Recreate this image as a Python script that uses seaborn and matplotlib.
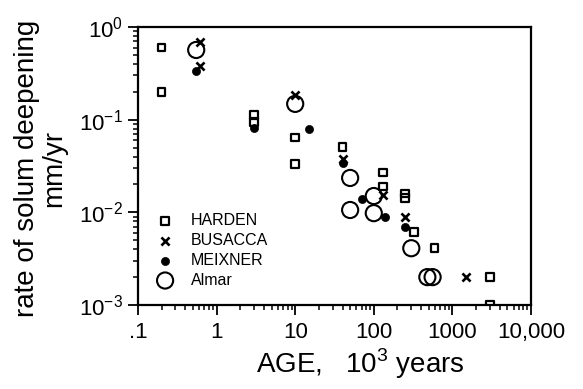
import matplotlib
matplotlib.use("Agg")
import matplotlib.pyplot as plt
import matplotlib.ticker as mticker
import numpy as np
import pandas as pd
import seaborn as sns

# Soil age (10^3 yr) and rate of solum deepening (mm/yr), by source
harden_age = [0.2, 0.2, 3, 3, 10, 10, 40, 130, 130, 250, 250, 325, 590, 3000, 3000]
harden_rate = [0.6, 0.2, 0.112, 0.095, 0.064, 0.033, 0.051, 0.027, 0.019,
               0.016, 0.0143, 0.0061, 0.0041, 0.002, 0.001]

busacca_age = [0.62, 0.62, 10, 40, 130, 250, 1500]
busacca_rate = [0.69, 0.38, 0.185, 0.038, 0.0154, 0.0089, 0.002]

meixner_age = [0.55, 3, 15, 40, 70, 140, 250]
meixner_rate = [0.335, 0.081, 0.079, 0.034, 0.014, 0.0089, 0.007]

almar_age = [0.55, 10, 50, 50, 100, 100, 300, 480, 560]
almar_rate = [0.565, 0.148, 0.0235, 0.0106, 0.015, 0.0098, 0.0041, 0.002, 0.002]

x_ticks = [0.1, 1, 10, 100, 1000, 10000]
x_tick_labels = [".1", "1", "10", "100", "1000", "10,000"]
y_ticks = [1e-3, 1e-2, 1e-1, 1e0]
y_tick_labels = [r"$\mathregular{10^{-3}}$", r"$\mathregular{10^{-2}}$",
                 r"$\mathregular{10^{-1}}$", r"$\mathregular{10^{0}}$"]

sns.set_style("white")
plt.rcParams["font.family"] = ["Liberation Sans", "DejaVu Sans"]
plt.rcParams["mathtext.fontset"] = "custom"
plt.rcParams["mathtext.rm"] = "Liberation Sans"
plt.rcParams["text.color"] = "black"
plt.rcParams["axes.labelcolor"] = "black"
plt.rcParams["xtick.color"] = "black"
plt.rcParams["ytick.color"] = "black"

fig = plt.figure(figsize=(5.83, 3.89), dpi=100)
ax = fig.add_axes([0.2367, 0.2159, 0.6741, 0.7147])

frames = {
    "HARDEN": pd.DataFrame({"age": harden_age, "rate": harden_rate}),
    "BUSACCA": pd.DataFrame({"age": busacca_age, "rate": busacca_rate}),
    "MEIXNER": pd.DataFrame({"age": meixner_age, "rate": meixner_rate}),
    "Almar": pd.DataFrame({"age": almar_age, "rate": almar_rate}),
}

sns.scatterplot(data=frames["HARDEN"], x="age", y="rate", ax=ax, marker="s",
                s=30, facecolor="none", edgecolor="black", linewidth=1.6,
                label="HARDEN", zorder=3)
sns.scatterplot(data=frames["BUSACCA"], x="age", y="rate", ax=ax, marker="x",
                s=34, color="black", linewidth=1.9, label="BUSACCA", zorder=3)
sns.scatterplot(data=frames["MEIXNER"], x="age", y="rate", ax=ax, marker="o",
                s=34, color="black", edgecolor="black", linewidth=0.5,
                label="MEIXNER", zorder=3)
sns.scatterplot(data=frames["Almar"], x="age", y="rate", ax=ax, marker="o",
                s=135, facecolor="none", edgecolor="black", linewidth=1.5,
                label="Almar", zorder=3)

ax.set_xscale("log")
ax.set_yscale("log")
ax.set_xlim(0.1, 10000)
ax.set_ylim(1e-3, 1)

ax.xaxis.set_major_locator(mticker.FixedLocator(x_ticks))
ax.xaxis.set_major_formatter(mticker.FixedFormatter(x_tick_labels))
ax.xaxis.set_minor_locator(mticker.LogLocator(base=10, subs=np.arange(2, 10)))
ax.xaxis.set_minor_formatter(mticker.NullFormatter())
ax.yaxis.set_major_locator(mticker.FixedLocator(y_ticks))
ax.yaxis.set_major_formatter(mticker.FixedFormatter(y_tick_labels))
ax.yaxis.set_minor_locator(mticker.LogLocator(base=10, subs=np.arange(2, 10)))
ax.yaxis.set_minor_formatter(mticker.NullFormatter())

ax.tick_params(which="major", direction="out", length=7, width=1.3,
               labelsize=16, color="black", labelcolor="black")
ax.tick_params(which="minor", direction="out", length=3.5, width=1.1, color="black")
ax.tick_params(axis="x", which="both", bottom=True, top=False, pad=5)
ax.tick_params(axis="y", which="both", left=True, right=False, pad=4)

for side in ["left", "right", "top", "bottom"]:
    ax.spines[side].set_visible(True)
    ax.spines[side].set_color("black")
    ax.spines[side].set_linewidth(1.6)

ax.set_xlabel(r"AGE,   10$^{\mathregular{3}}$ years", fontsize=20)
ax.xaxis.set_label_coords(0.567, -0.148)
ax.set_ylabel("rate of solum deepening\nmm/yr", fontsize=20,
              linespacing=1.05)
ax.yaxis.set_label_coords(-0.18, 0.49)

leg = ax.legend(loc="upper left", bbox_to_anchor=(0.01, 0.37), frameon=False,
                fontsize=11.5, handletextpad=0.85, labelspacing=0.3,
                borderaxespad=0.3, handlelength=1.5)

fig.savefig("out.png", dpi=100, facecolor="white")
